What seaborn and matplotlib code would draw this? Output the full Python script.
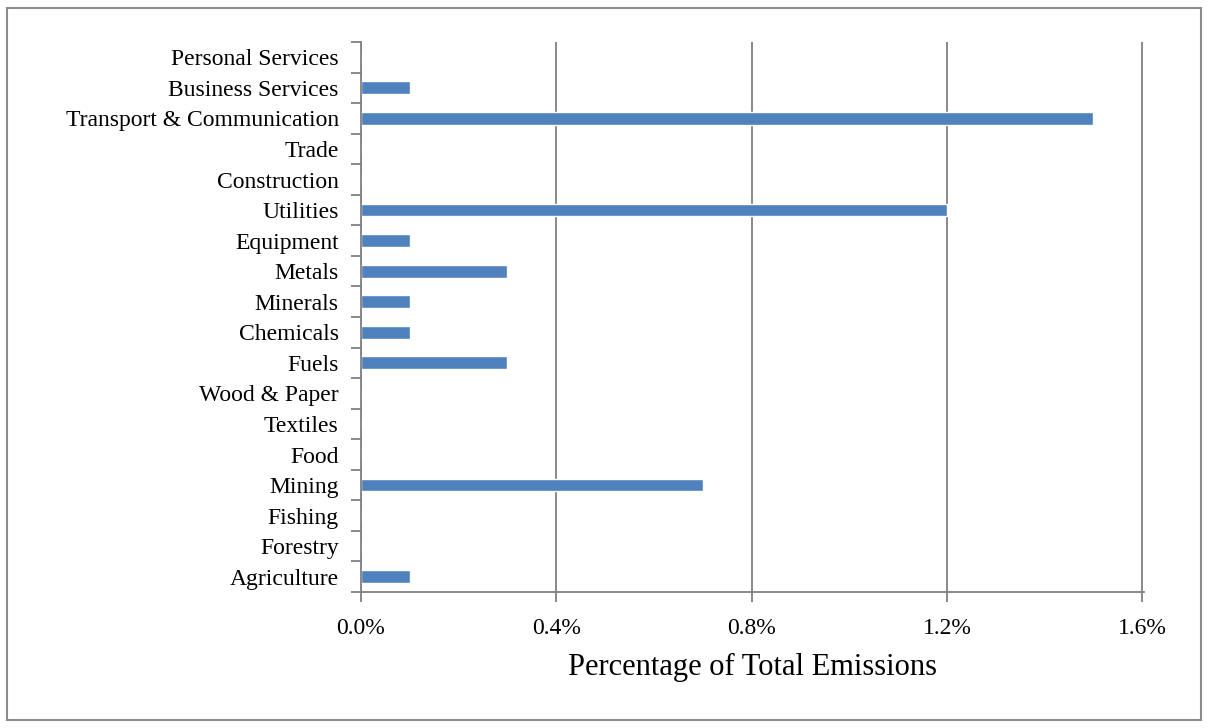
import matplotlib
matplotlib.use("Agg")
import matplotlib.pyplot as plt
import seaborn as sns
import pandas as pd
from matplotlib.ticker import FuncFormatter, FixedLocator
from matplotlib.patches import Rectangle

sectors = ["Personal Services", "Business Services", "Transport & Communication", "Trade",
           "Construction", "Utilities", "Equipment", "Metals", "Minerals", "Chemicals",
           "Fuels", "Wood & Paper", "Textiles", "Food", "Mining", "Fishing", "Forestry",
           "Agriculture"]
values = [0.0, 0.1, 1.5, 0.0, 0.0, 1.2, 0.1, 0.3, 0.1, 0.1, 0.3, 0.0, 0.0, 0.0, 0.7, 0.0, 0.0, 0.1]
xticks = [0.0, 0.4, 0.8, 1.2, 1.6]

sns.set_style("white")
plt.rcParams['font.family'] = ['Liberation Serif', 'DejaVu Serif']
plt.rcParams['text.color'] = 'black'
plt.rcParams['axes.labelcolor'] = 'black'
plt.rcParams['xtick.labelcolor'] = 'black'
plt.rcParams['ytick.labelcolor'] = 'black'

df = pd.DataFrame({"sector": sectors, "value": values})

fig = plt.figure(figsize=(12.08, 7.28), dpi=100)
ax = fig.add_axes([0.2988, 0.1868, 0.9468 - 0.2988, 0.9423 - 0.1868])

sns.barplot(data=df, y="sector", x="value", orient="h", color="#4F81BD",
            width=0.42, saturation=1, ax=ax, order=sectors)

ax.set_xlim(0, 1.603)
ax.set_ylim(len(sectors) - 0.5, -0.5)
ax.set_xticks(xticks)
ax.xaxis.set_major_formatter(FuncFormatter(lambda v, p: f"{v:.1f}%"))
ax.grid(axis="x", color="#808080", linewidth=1.3)
ax.grid(axis="y", visible=False)
ax.set_axisbelow(True)

for s in ["top", "right"]:
    ax.spines[s].set_visible(False)
for s in ["left", "bottom"]:
    ax.spines[s].set_color("#808080")
    ax.spines[s].set_linewidth(1.3)

# y ticks at category boundaries
ax.yaxis.set_major_locator(FixedLocator([i - 0.5 for i in range(len(sectors) + 1)]))
ax.yaxis.set_major_formatter(FuncFormatter(lambda v, p: ""))
ax.yaxis.set_minor_locator(FixedLocator(list(range(len(sectors)))))
ax.set_yticklabels(sectors, minor=True)
ax.tick_params(axis="y", which="major", left=True, length=7, width=1.3, color="#808080")
ax.tick_params(axis="y", which="minor", left=False, length=0, pad=16, labelsize=17,
               labelcolor="black")
ax.tick_params(axis="x", bottom=True, length=7, width=1.3, color="#808080", labelsize=17,
               pad=12, labelcolor="black")

ax.set_ylabel("")
ax.set_xlabel("Percentage of Total Emissions", fontsize=22, labelpad=10, color="black")

fig.patches.append(Rectangle((0.0058, 0.011), 0.988, 0.978, transform=fig.transFigure,
                             fill=False, edgecolor="#8c8c8c", linewidth=1.5))

fig.savefig("out.png", dpi=100)
